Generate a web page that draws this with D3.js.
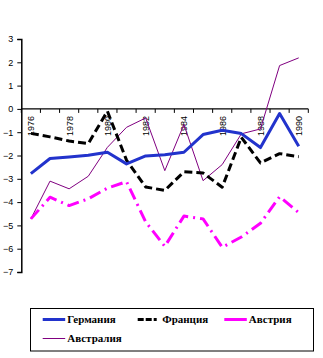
<!DOCTYPE html>
<html><head><meta charset="utf-8">
<script src="https://cdn.jsdelivr.net/npm/d3@7"></script>
<style>body{margin:0;background:#fff}svg{display:block}</style>
</head><body>
<script>
const years = [1976,1977,1978,1979,1980,1981,1982,1983,1984,1985,1986,1987,1988,1989,1990];
const germany   = [-2.78,-2.13,-2.06,-1.99,-1.86,-2.36,-2.02,-1.97,-1.86,-1.10,-0.92,-1.06,-1.66,-0.20,-1.60];
const france    = [-1.05,-1.20,-1.38,-1.49,-0.10,-2.20,-3.35,-3.50,-2.70,-2.75,-3.36,-1.22,-2.32,-1.92,-2.05];
const austria   = [-4.72,-3.79,-4.15,-3.86,-3.40,-3.12,-4.85,-5.90,-4.60,-4.72,-5.94,-5.50,-4.91,-3.77,-4.45];
const australia = [-4.72,-3.10,-3.43,-2.89,-1.65,-0.79,-0.39,-2.65,-0.67,-3.08,-2.39,-1.07,-0.86,1.86,2.19];
const yTicks = [3,2,1,0,-1,-2,-3,-4,-5,-6,-7];
const xLabels = [1976,1978,1980,1982,1984,1986,1988,1990];
const seriesNames = ["Германия","Франция","Австрия","Австралия"];

const W=323,H=358;
const svg=d3.select("body").append("svg").attr("width",W).attr("height",H);
const x=d3.scaleBand().domain(years).range([21.3,308.3]);
const y=d3.scaleLinear().domain([-7,3]).range([272,39]);

// y axis
const yAxis=svg.append("g").attr("transform","translate(21.3,0)")
  .call(d3.axisLeft(y).tickValues(yTicks).tickSize(4).tickPadding(4).tickFormat(d3.format("d")));
yAxis.select(".domain").attr("stroke","#000").attr("stroke-width",1.5);
yAxis.selectAll(".tick line").attr("stroke","#000");
yAxis.selectAll("text").attr("font-family","Liberation Sans, Arial").attr("font-size",9).attr("fill","#000");

// x axis at 0
const xg=svg.append("g").attr("transform",`translate(0,${y(0)})`);
xg.append("line").attr("x1",x.range()[0]).attr("x2",x.range()[1]).attr("stroke","#000").attr("stroke-width",1.2);
const bounds=years.map(d=>x(d)).concat([x.range()[1]]);
xg.selectAll("line.tk").data(bounds).join("line").attr("class","tk")
  .attr("x1",d=>d).attr("x2",d=>d).attr("y1",0).attr("y2",4).attr("stroke","#000");
xg.selectAll("text").data(xLabels).join("text")
  .attr("transform",d=>`translate(${x(d)+x.bandwidth()/2+3.5},7) rotate(-90)`)
  .attr("text-anchor","end").attr("font-family","Liberation Sans, Arial").attr("font-size",9)
  .text(d=>d);

const line=d3.line().x((d,i)=>x(years[i])+x.bandwidth()/2).y(d=>y(d));
const styles=[
  {data:germany,color:"#2233cc",w:3,dash:null},
  {data:france,color:"#000",w:3,dash:"8,4"},
  {data:austria,color:"#ff00ff",w:3,dash:"12,5,2,5"},
  {data:australia,color:"#800080",w:1,dash:null}
];
[3,2,1,0].forEach(k=>{
  const s=styles[k];
  svg.append("path").datum(s.data).attr("d",line).attr("fill","none")
    .attr("stroke",s.color).attr("stroke-width",s.w).attr("stroke-dasharray",s.dash)
    .attr("stroke-linejoin","round");
});

// legend
const lg=svg.append("g");
lg.append("rect").attr("x",30.5).attr("y",308.5).attr("width",283).attr("height",42.5)
  .attr("fill","#fff").attr("stroke","#000").attr("stroke-width",1);
const pos=[[42.7,319.5],[137.7,319.5],[224.3,319.5],[42.7,338.5]];
styles.forEach((s,i)=>{
  const [lx,ly]=pos[i];
  lg.append("line").attr("x1",lx).attr("x2",lx+22.5).attr("y1",ly).attr("y2",ly)
    .attr("stroke",s.color).attr("stroke-width",s.w).attr("stroke-dasharray",i==1?"6,2,6,2,3":null);
  lg.append("text").attr("x",lx+24.5).attr("y",ly+3.5).attr("font-family","Liberation Serif, Times New Roman")
    .attr("font-weight","bold").attr("font-size",11).text(seriesNames[i]);
});
</script>
</body></html>
